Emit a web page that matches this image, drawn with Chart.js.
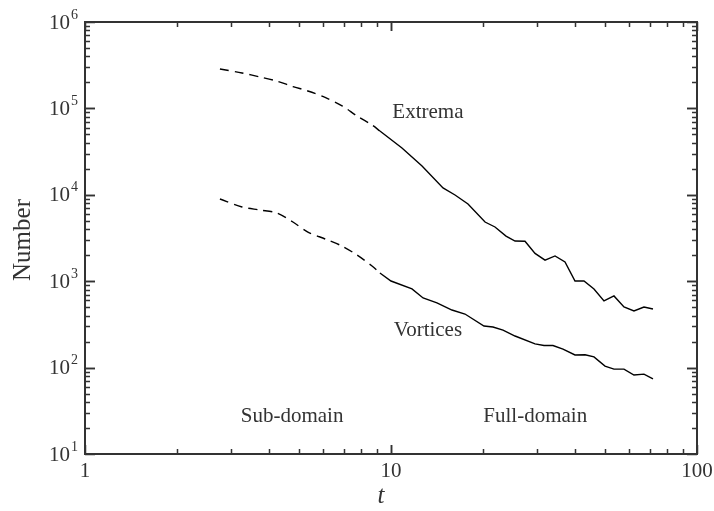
<!DOCTYPE html>
<html>
<head>
<meta charset="utf-8">
<script src="https://cdn.jsdelivr.net/npm/chart.js@4"></script>
<style>
  html, body { margin: 0; padding: 0; background: #fff; }
  #wrap { width: 714px; height: 511px; }
</style>
</head>
<body>
<div id="wrap"><canvas id="numberChart" width="714" height="511"></canvas></div>
<script>
// sub-domain (dashed) part, t < ~9
var subT        = [2.76, 3.26, 3.73, 4.24, 4.78, 5.35, 6.09, 6.92, 7.74, 8.67, 9.2];
var extremaSubN = [286000, 257000, 231000, 207000, 179000, 159000, 134000, 107000, 81700, 64200, 54700];
var vortexSubN  = [8940, 7230, 6670, 6150, 4840, 3710, 3080, 2550, 2010, 1500, 1244];

// full-domain (solid) part
var extremaT = [9.2, 10.86, 12.63, 14.79, 16.19, 17.85, 20.29, 21.87, 23.76, 25.43, 27.41, 29.56,
                31.87, 34.36, 37.04, 39.93, 42.72, 46.06, 49.66, 53.54, 57.72, 62.23, 67.09, 71.81];
var extremaN = [54700, 34800, 21500, 12000, 9950, 7830, 4840, 4240, 3330, 2920, 2900, 2100,
                1750, 1960, 1670, 1005, 1005, 813, 590, 675, 503, 452, 503, 477];
var vortexT  = [9.2, 10.0, 11.71, 12.73, 14.13, 15.82, 17.45, 20.13, 21.54, 23.23, 25.43, 29.56,
                31.62, 33.83, 36.48, 39.93, 43.05, 46.06, 50.04, 53.54, 57.72, 62.23, 67.09, 71.81];
var vortexN  = [1244, 1005, 813, 640, 560, 464, 417, 303, 295, 272, 232, 188,
                180, 180, 164, 140, 141, 133, 104, 96, 96, 82, 84, 74];

var xTicks = [1, 10, 100];
var yExponents = [1, 2, 3, 4, 5, 6];

var notes = [
  { text: 'Extrema',     t: 13.2, n: 88500 },
  { text: 'Vortices',    t: 13.2, n: 272 },
  { text: 'Sub-domain',  t: 4.75, n: 27.5 },
  { text: 'Full-domain', t: 29.6, n: 27.5 }
];

function pts(xs, ys) {
  return xs.map(function(x, i) { return { x: x, y: ys[i] }; });
}

var ink = '#333';
var serif = '"Liberation Serif", "DejaVu Serif", serif';

// frame, inward ticks, labels and notes
var framePlugin = {
  id: 'frame',
  afterDraw: function(chart) {
    var c = chart.ctx, a = chart.chartArea;
    var xs = chart.scales.x, ys = chart.scales.y;
    c.save();
    c.strokeStyle = ink;
    c.lineWidth = 1.5;

    // x ticks (bottom & top)
    for (var d = 1; d < 100; d *= 10) {
      for (var k = 1; k <= 10; k++) {
        var v = d * k;
        var px = Math.round(xs.getPixelForValue(v)) + 0.5;
        var len = (k === 1 || k === 10) ? 9 : 5;
        c.beginPath();
        c.moveTo(px, a.bottom); c.lineTo(px, a.bottom - len);
        c.moveTo(px, a.top); c.lineTo(px, a.top + len);
        c.stroke();
      }
    }
    // y ticks (left & right)
    for (var e = 1; e < 6; e++) {
      for (var m = 1; m <= 10; m++) {
        var val = Math.pow(10, e) * m;
        var py = Math.round(ys.getPixelForValue(val)) + 0.5;
        var l = (m === 1 || m === 10) ? 10 : 5;
        c.beginPath();
        c.moveTo(a.left, py); c.lineTo(a.left + l, py);
        c.moveTo(a.right, py); c.lineTo(a.right - l, py);
        c.stroke();
      }
    }
    c.lineWidth = 2;
    c.strokeRect(a.left, a.top, a.right - a.left, a.bottom - a.top);

    c.fillStyle = ink;
    // x tick labels
    c.font = '21px ' + serif;
    c.textAlign = 'center';
    c.textBaseline = 'middle';
    xTicks.forEach(function(v) {
      c.fillText(String(v), xs.getPixelForValue(v), a.bottom + 17);
    });
    // y tick labels 10^n
    yExponents.forEach(function(p) {
      var y = ys.getPixelForValue(Math.pow(10, p));
      c.font = '14px ' + serif;
      c.textAlign = 'right';
      var ew = c.measureText(String(p)).width;
      c.fillText(String(p), a.left - 7, y - 7);
      c.font = '21px ' + serif;
      c.fillText('10', a.left - 8 - ew, y + 1);
    });
    // axis titles
    c.font = 'italic 25px ' + serif;
    c.textAlign = 'center';
    c.fillText('t', (a.left + a.right) / 2 - 10, a.bottom + 42);
    c.save();
    c.translate(23, 240);
    c.rotate(-Math.PI / 2);
    c.font = '25px ' + serif;
    c.fillText('Number', 0, 0);
    c.restore();
    // notes
    c.font = '21px ' + serif;
    notes.forEach(function(nt) {
      c.fillText(nt.text, xs.getPixelForValue(nt.t), ys.getPixelForValue(nt.n));
    });
    c.restore();
  }
};

var line = { borderColor: '#000', borderWidth: 1.4, pointRadius: 0, showLine: true, fill: false };

new Chart(document.getElementById('numberChart').getContext('2d'), {
  type: 'scatter',
  data: {
    datasets: [
      Object.assign({ label: 'Extrema sub', data: pts(subT, extremaSubN), borderDash: [9, 6], tension: 0.3 }, line),
      Object.assign({ label: 'Vortices sub', data: pts(subT, vortexSubN), borderDash: [9, 6], tension: 0.3 }, line),
      Object.assign({ label: 'Extrema', data: pts(extremaT, extremaN) }, line),
      Object.assign({ label: 'Vortices', data: pts(vortexT, vortexN) }, line)
    ]
  },
  options: {
    responsive: false,
    animation: false,
    layout: { padding: { left: 85, right: 17, top: 22, bottom: 57 } },
    plugins: { legend: { display: false }, tooltip: { enabled: false } },
    scales: {
      x: { type: 'logarithmic', min: 1, max: 100, display: false },
      y: { type: 'logarithmic', min: 10, max: 1000000, display: false }
    }
  },
  plugins: [framePlugin]
});
</script>
</body>
</html>
